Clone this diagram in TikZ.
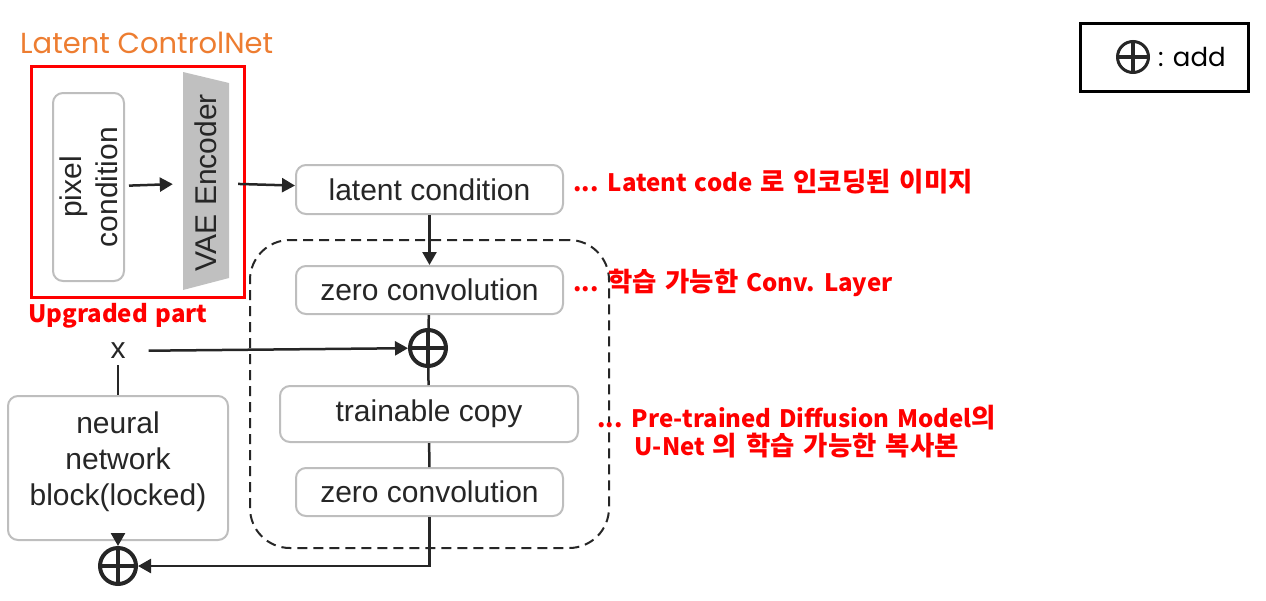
\documentclass[tikz,border=0pt]{standalone}
\usepackage{fontspec}
\setmainfont{Liberation Sans}
\newfontfamily\krfont{Noto Sans CJK KR}[WordSpace=1.4]
\newfontfamily\hgfont{Noto Sans CJK KR}[Scale=1.1,WordSpace=1.5]
\newfontfamily\handfont{Poppins}
\newcommand\hg[1]{{\hgfont #1}}
\usetikzlibrary{arrows.meta,positioning}
\definecolor{boxGray}{RGB}{190,190,190}
\definecolor{inkDark}{RGB}{38,38,38}
\definecolor{vaeGray}{RGB}{192,192,192}
\definecolor{noteRed}{RGB}{255,0,0}
\definecolor{titleOrange}{RGB}{237,125,49}

\begin{document}
\begin{tikzpicture}[x=1pt,y=-1pt,
  blk/.style={rectangle,draw=boxGray,line width=2pt,rounded corners=10pt,fill=white,text=inkDark,
              inner sep=0pt,align=center,font=\fontsize{30}{36}\selectfont},
  addr/.style={circle,draw=inkDark,line width=4pt,minimum size=36pt,inner sep=0pt,
               path picture={\draw[inkDark,line width=4pt]
                 (path picture bounding box.north)--(path picture bounding box.south)
                 (path picture bounding box.west)--(path picture bounding box.east);}},
  arr/.style={-{Triangle[length=13pt,width=14pt]},line width=2.5pt,draw=inkDark},
  lnk/.style={line width=2.5pt,draw=inkDark},
  note/.style={anchor=west,inner sep=0pt,text=noteRed,align=center,
               font=\krfont\bfseries\fontsize{24}{28}\selectfont}
]
  \useasboundingbox (0,0) rectangle (1266,600);

  \node[anchor=west,inner sep=0pt,text=titleOrange,font=\handfont\fontsize{29}{34}\selectfont]
       (title) at (20,43) {Latent ControlNet};
  \node[draw=noteRed,line width=3pt,minimum width=213pt,minimum height=231pt,inner sep=0pt]
       (upg) at (137.5,181.5) {};
  \node[note] (upgtxt) at (28,316) {Upgraded part};

  \node[blk,rotate=90,minimum width=188pt,minimum height=71pt] (pc) at (88.5,187) {pixel\\condition};
  \fill[vaeGray] (183,72) -- (229,83) -- (229,278) -- (183,290) -- cycle;
  \node[rotate=90,inner sep=0pt,minimum width=218pt,minimum height=46pt,text=inkDark,
        font=\fontsize{30}{36}\selectfont] (vae) at (206,183) {VAE Encoder};

  \node[blk,minimum width=267pt,minimum height=49pt] (lat) at (429.5,189.5) {latent condition};
  \node[draw=inkDark,dashed,dash pattern=on 10pt off 6pt,line width=2pt,rounded corners=40pt,
        minimum width=359pt,minimum height=308pt,inner sep=0pt] (ctrl) at (429.5,394) {};
  \node[blk,minimum width=267pt,minimum height=48pt] (zc1) at (429.5,290) {zero convolution};
  \node[addr] (add1) at (428,348) {};
  \node[blk,minimum width=298pt,minimum height=56pt] (tc) at (429,414) {trainable copy};
  \node[blk,minimum width=267pt,minimum height=48pt] (zc2) at (429.5,492) {zero convolution};

  \node[text=inkDark,inner sep=2pt,font=\fontsize{30}{36}\selectfont] (xin) at (118,351) {x};
  \node[blk,minimum width=220pt,minimum height=144pt] (nn) at (118,468)
       {neural\\network\\block(locked)\\[-17pt]\mbox{}};
  \node[addr] (add2) at (118,566) {};

  \draw[arr,shorten <=4pt,shorten >=10pt] (pc) -- (vae);
  \draw[arr,shorten <=9pt] (vae) -- (lat);
  \draw[arr] (lat) -- (zc1);
  \draw[lnk] (zc1) -- (add1);
  \draw[lnk] (add1) -- (tc);
  \draw[lnk] (tc) -- (zc2);
  \draw[arr,shorten <=21pt] (xin) -- (add1);
  \draw[lnk,shorten <=4pt] (xin) -- (nn);
  \draw[arr] (nn) -- (add2);
  \draw[arr] (zc2.south) |- (add2.east);

  \node[note] (n1) at (573,182) {... Latent code \hg{로 인코딩된 이미지}};
  \node[note] (n2) at (573,283) {... \hg{학습 가능한} Conv. Layer};
  \node[note] (n3) at (597,432)
       {... Pre-trained Diffusion Model\hg{의}\\U-Net \hg{의 학습 가능한 복사본}};

  \node[draw=black,line width=3pt,minimum width=168pt,minimum height=68pt,inner sep=0pt]
       (legend) at (1164,57) {};
  \node[addr,minimum size=31pt,line width=3pt] (addkey) at (1133,57) {};
  \node[right=8pt of addkey,inner sep=0pt,font=\handfont\fontsize{26}{30}\selectfont] (addtxt) {: add};
\end{tikzpicture}
\end{document}
